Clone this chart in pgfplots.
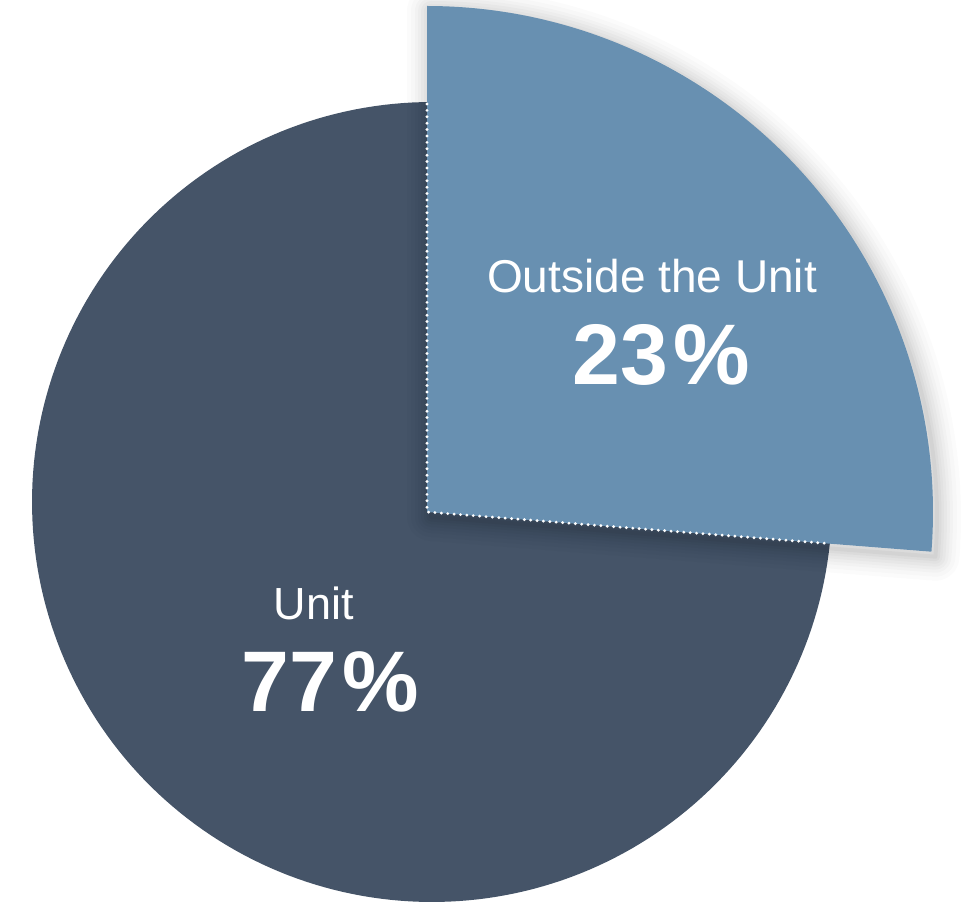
\documentclass[border=0pt]{standalone}
\usepackage{pgfplots}
\pgfplotsset{compat=1.18}
\usepackage{pgfplotstable}
\usepackage{fontspec}
\setmainfont{Liberation Sans}
\definecolor{darkslice}{HTML}{455468}
\definecolor{lightslice}{HTML}{6890B1}
\pgfplotsset{shadowwedge/.style={draw=black, line join=round, fill=none,
  variable=\t, domain=-4.5:90, samples=120}}
\begin{document}
\begin{tikzpicture}
\begin{axis}[name=ax,
  scale only axis, width=484pt, height=451.5pt,
  xmin=0, xmax=968, ymin=0, ymax=903,
  hide axis, clip=false]
% dark slice (Unit, 77%)
\addplot[fill=darkslice, draw=none, variable=\t, domain=90:365, samples=200]
  ({432+400*cos(\t)}, {401+400*sin(\t)}) -- (axis cs:432,401) -- cycle;
% soft shadow of the exploded slice
\addplot[shadowwedge, draw opacity=0.015, line width=24pt]
  ({431+506*cos(\t)}, {386+506*sin(\t)}) -- (axis cs:431,386) -- cycle;
\addplot[shadowwedge, draw opacity=0.015, line width=20pt]
  ({431+506*cos(\t)}, {386+506*sin(\t)}) -- (axis cs:431,386) -- cycle;
\addplot[shadowwedge, draw opacity=0.02, line width=16pt]
  ({431+506*cos(\t)}, {386+506*sin(\t)}) -- (axis cs:431,386) -- cycle;
\addplot[shadowwedge, draw opacity=0.02, line width=13pt]
  ({431+506*cos(\t)}, {386+506*sin(\t)}) -- (axis cs:431,386) -- cycle;
\addplot[shadowwedge, draw opacity=0.025, line width=10pt]
  ({431+506*cos(\t)}, {386+506*sin(\t)}) -- (axis cs:431,386) -- cycle;
\addplot[shadowwedge, draw opacity=0.025, line width=7pt]
  ({431+506*cos(\t)}, {386+506*sin(\t)}) -- (axis cs:431,386) -- cycle;
\addplot[shadowwedge, draw opacity=0.03, line width=4.5pt]
  ({431+506*cos(\t)}, {386+506*sin(\t)}) -- (axis cs:431,386) -- cycle;
\addplot[shadowwedge, draw opacity=0.035, line width=2pt]
  ({431+506*cos(\t)}, {386+506*sin(\t)}) -- (axis cs:431,386) -- cycle;
% light slice (Outside the Unit, 23%)
\addplot[fill=lightslice, draw=none, variable=\t, domain=-4.5:90, samples=160]
  ({427+506*cos(\t)}, {391+506*sin(\t)}) -- (axis cs:427,391) -- cycle;
% dotted white seam where the slices meet
\addplot[draw=white, line width=1.6pt, dash pattern=on 0pt off 3.2pt, line cap=round]
  coordinates {(427,799) (427,391) (829,359.4)};
\node[anchor=base, text=white, inner sep=0, font=\fontsize{23}{27}\selectfont] at (axis cs:652,610) {Outside the Unit};
\node[anchor=base, text=white, inner sep=0, font=\fontsize{43}{50}\selectfont\bfseries] at (axis cs:661,518) {23\kern0.06em\%};
\node[anchor=base, text=white, inner sep=0, font=\fontsize{22.5}{27}\selectfont] at (axis cs:314,283) {Unit};
\node[anchor=base, text=white, inner sep=0, font=\fontsize{43}{50}\selectfont\bfseries] at (axis cs:330,191) {77\kern0.06em\%};
\end{axis}
\pgfresetboundingbox
\path (ax.south west) rectangle (ax.north east);
\end{tikzpicture}
\end{document}
